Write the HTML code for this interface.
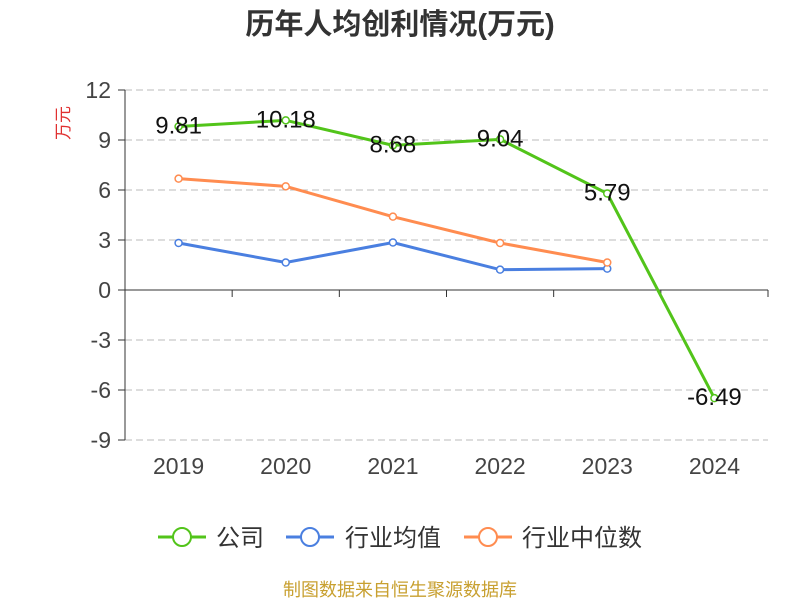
<!DOCTYPE html>
<html><head><meta charset="utf-8"><style>
body{margin:0;background:#fff;}
svg text{font-family:"Liberation Sans","Noto Sans CJK SC",sans-serif;}
</style></head><body>
<svg id="chart" width="800" height="600" xmlns="http://www.w3.org/2000/svg">
<text x="400" y="34" text-anchor="middle" font-size="29" font-weight="bold" fill="#333">历年人均创利情况(万元)</text>
<text transform="translate(69,123) rotate(-90)" text-anchor="middle" font-size="17" fill="#e03030">万元</text>
<g id="grid"></g>
<g id="axes"></g>
<g id="series"></g>
<g font-size="24" fill="#333">
 <g><line x1="158" y1="537" x2="206" y2="537" stroke="#52c41a" stroke-width="3"/><circle cx="182" cy="537" r="9" fill="#fff" stroke="#52c41a" stroke-width="2"/><text x="216" y="546">公司</text></g>
 <g><line x1="286" y1="537" x2="334" y2="537" stroke="#4a7fe0" stroke-width="3"/><circle cx="310" cy="537" r="9" fill="#fff" stroke="#4a7fe0" stroke-width="2"/><text x="345" y="546">行业均值</text></g>
 <g><line x1="464" y1="537" x2="512" y2="537" stroke="#ff8c50" stroke-width="3"/><circle cx="488" cy="537" r="9" fill="#fff" stroke="#ff8c50" stroke-width="2"/><text x="522" y="546">行业中位数</text></g>
</g>
<text x="400" y="596" text-anchor="middle" font-size="18" fill="#c8a030">制图数据来自恒生聚源数据库</text>
</svg>
<script>
const categories=["2019","2020","2021","2022","2023","2024"];
const companyValues=[9.81,10.18,8.68,9.04,5.79,-6.49];
const avgValues=[2.82,1.65,2.85,1.22,1.28];
const medianValues=[6.68,6.22,4.4,2.82,1.65];
const yTicks=[12,9,6,3,0,-3,-6,-9];
const NS="http://www.w3.org/2000/svg";
const L=125,R=768,T=90,B=440,yMax=12,yMin=-9;
const bw=(R-L)/categories.length;
const x=i=>L+bw*(i+0.5);
const y=v=>T+(yMax-v)/(yMax-yMin)*(B-T);
function mk(p,tag,a){const e=document.createElementNS(NS,tag);for(const k in a)e.setAttribute(k,a[k]);p.appendChild(e);return e;}
const grid=document.getElementById('grid'),axes=document.getElementById('axes'),ser=document.getElementById('series');
yTicks.forEach(t=>{
 if(t!==0){const g=mk(grid,'line',{x1:L,x2:R,y1:y(t),y2:y(t),stroke:'#bbb','stroke-dasharray':'7,4'});}
 const tk=mk(axes,'line',{x1:L-7,x2:L,y1:y(t),y2:y(t),stroke:'#333'});
 
 const tx=mk(axes,'text',{x:L-14,y:y(t)+8,'text-anchor':'end','font-size':23,fill:'#444'});tx.textContent=t;
 
});
const ya=mk(axes,'line',{x1:L,x2:L,y1:T,y2:B,stroke:'#333'});
const xa=mk(axes,'line',{x1:L,x2:R,y1:y(0),y2:y(0),stroke:'#333'});
for(let i=0;i<=categories.length;i++){const tk=mk(axes,'line',{x1:L+bw*i,x2:L+bw*i,y1:y(0),y2:y(0)+7,stroke:'#333'});}
categories.forEach((c,i)=>{const t=mk(axes,'text',{x:x(i),y:474,'text-anchor':'middle','font-size':23,fill:'#444'});t.textContent=c;});
function line(vals,color,name,labels){
 const g=mk(ser,'g',{});
 const pl=mk(g,'polyline',{points:vals.map((v,i)=>x(i)+','+y(v)).join(' '),fill:'none',stroke:color,'stroke-width':3});
 
 vals.forEach((v,i)=>{const c=mk(g,'circle',{cx:x(i),cy:y(v),r:3.5,fill:'#fff',stroke:color,'stroke-width':1.5});
  if(labels){const t=mk(g,'text',{x:x(i),y:y(v)+7,'text-anchor':'middle','font-size':24,fill:'#111'});t.textContent=v.toFixed(2);}});
}
line(avgValues,'#4a7fe0','industry-avg-series',false);
line(medianValues,'#ff8c50','industry-median-series',false);
line(companyValues,'#52c41a','company-series',true);
</script>
</body></html>
